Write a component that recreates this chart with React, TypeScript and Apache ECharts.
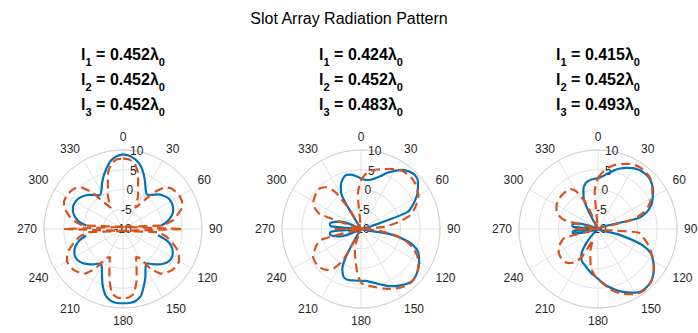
import React, { useEffect, useRef } from "react";
import * as echarts from "echarts";

// Pattern sample angles (degrees, clockwise from broadside at the top)
const THETA = [
  0, 5, 10, 15, 20, 25, 30, 35, 40, 45, 50, 55, 60, 65, 70, 75, 80, 85, 90,
  95, 100, 105, 110, 115, 120, 125, 130, 135, 140, 145, 150, 155, 160, 165, 170, 175, 180,
  185, 190, 195, 200, 205, 210, 215, 220, 225, 230, 235, 240, 245, 250, 255, 260, 265, 270,
  275, 280, 285, 290, 295, 300, 305, 310, 315, 320, 325, 330, 335, 340, 345, 350, 355, 360,
];

// Normalised gain in dB; null = no value (pattern zero)
// Case 1: equal slot lengths
const THEORY_1 = [
  8.9, 8.6, 7.9, 6.8, 5.1, 3.2, 1.5, 0.6, 1.3, 2.4, 3.2, 3.8, 4.0, 3.9, 3.5, 2.7, 1.5, -0.3, null,
  null, -1.0, 1.6, 3.1, 3.9, 4.3, 4.2, 3.6, 2.7, 1.6, 0.6, 1.4, 3.4, 5.4, 7.5, 8.5, 8.8, 8.8,
  8.8, 8.4, 7.3, 5.1, 2.6, 0.8, 0.7, 1.7, 2.6, 3.4, 3.9, 4.0, 3.6, 2.8, 1.5, -0.5, null, null,
  -0.7, 1.5, 2.7, 3.5, 3.9, 3.9, 3.6, 3.0, 2.2, 1.3, 0.4, 1.0, 2.6, 4.3, 6.0, 7.6, 8.5, 8.9,
];
const SIM_1 = [
  7.9, 7.7, 7.0, 4.8, 1.2, -1.0, -3.8, -2.0, 2.2, 5.0, 6.0, 6.4, 6.6, 6.5, 6.0, 4.4, 3.0, 0.3, -25,
  -1.0, 1.2, 2.8, 4.4, 5.6, 6.4, 6.5, 6.2, 5.6, 4.8, 2.5, -1.5, -2.2, 0.0, 3.4, 6.6, 7.4, 7.6,
  7.4, 6.6, 3.3, 0.0, -2.2, -1.5, 2.4, 4.7, 5.6, 6.2, 6.5, 6.4, 5.6, 4.3, 2.8, 1.2, -1.0, -25.2,
  0.3, 3.0, 4.4, 5.9, 6.5, 6.6, 6.4, 6.0, 5.0, 2.2, -2.0, -3.8, -1.0, 1.2, 4.8, 7.0, 7.7, 7.9,
];

// Case 2: graded slot lengths
const THEORY_2 = [
  2.8, 2.5, 2.6, 3.2, 4.2, 5.7, 7.0, 8.3, 9.0, 9.3, 8.8, 7.6, 6.2, 4.5, 2.5, -7.5, -10, -10, -10,
  -10, -2.5, 2.5, 5.0, 6.2, 7.0, 7.7, 8.2, 8.5, 8.1, 7.4, 6.7, 5.9, 5.0, 4.2, 3.6, 3.2, 3.1,
  3.1, 3.2, 3.3, 2.9, 1.2, -10, -10, -10, -10, -10, -10, -10, -8, -4.5, -3.0, -2.0, -2.4, -10,
  -2.4, -2.0, -3.0, -4.5, -8, -10, -10, -10, -10, -10, -10, -0.5, 2.1, 3.5, 4.2, 4.0, 3.4, 2.8,
];
const SIM_2 = [
  2.4, 4.0, 5.0, 5.6, 6.1, 6.8, 7.5, 8.0, 8.2, 8.2, 7.9, 7.4, 6.8, 5.6, 4.3, 2.6, -0.8, -4.5, -10,
  -6.0, -1.5, 1.8, 4.0, 5.6, 6.8, 7.6, 8.2, 8.5, 8.5, 8.0, 7.4, 6.7, 6.0, 5.3, 4.7, 4.2, 3.6,
  1.0, -2.0, -4.0, -6.5, -10, -1.0, 2.3, 3.5, 4.1, 4.3, 4.3, 4.0, 3.0, 2.0, 0.5, -10, -10, -3.0,
  -10, -10, -10, 1.0, 3.0, 3.9, 4.3, 4.6, 4.6, 3.8, 1.5, -5.0, -10, -10, -10, -10, -1.0, 2.4,
];

// Case 3: strongly graded slot lengths
const THEORY_3 = [
  2.8, 3.4, 4.3, 5.3, 6.3, 7.1, 7.8, 8.2, 8.4, 8.3, 7.8, 7.0, 6.0, 5.0, 3.4, 0.5, -10, -10, -10,
  -10, -10, -4.5, 2.0, 4.8, 6.1, 7.3, 8.2, 8.9, 9.2, 9.2, 8.6, 7.7, 6.8, 5.8, 4.8, 3.7, 2.6,
  1.8, 1.1, 0.4, -0.3, -0.7, -1.5, -2.9, -5.5, -8.0, -10, -10, -10, -10, -10, -7.0, -3.5, -3.6, -10,
  -3.6, -3.4, -4.5, -7.5, -10, -10, -10, -10, -10, -10, -10, -10, -1.5, 0.8, 2.0, 2.5, 2.7, 2.8,
];
const SIM_3 = [
  3.0, 4.5, 5.8, 6.8, 7.5, 8.2, 8.7, 8.9, 8.8, 8.5, 7.9, 6.8, 5.6, 4.2, 2.3, -1.5, -10, -10, -10,
  0.3, 1.5, 2.7, 3.9, 5.0, 6.2, 7.2, 8.2, 9.0, 9.4, 9.4, 9.0, 8.2, 7.4, 6.4, 5.2, 3.8, 2.8,
  1.5, 0.0, -2.5, -4.5, -7.0, -1.8, 0.2, 1.3, 1.8, 1.9, 1.8, 1.5, 1.0, 0.0, -1.2, -10, -10, -3.7,
  -10, -10, -1.3, 0.8, 1.6, 2.1, 2.4, 2.5, 2.5, 2.5, 2.3, 1.0, -3.0, -10, -10, -10, -0.5, 3.0,
];

// Slot lengths l1, l2, l3 in free-space wavelengths for each case
const SLOT_LENGTHS = [
  [0.452, 0.452, 0.452],
  [0.424, 0.452, 0.483],
  [0.415, 0.452, 0.493],
];

const THEORY = [THEORY_1, THEORY_2, THEORY_3];
const SIM = [SIM_1, SIM_2, SIM_3];
// Case 1's simulated trace folds through the origin, so it is drawn with straight segments
const SIM_SMOOTH = [false, 0.25, 0.25];

const R_MIN = -10;
const R_MAX = 10;
const R_STEP = 5;
const THETA_STEP = 30;

// Layout
const WIDTH = 698;
const HEIGHT = 333;
const CENTER_X = [123, 361, 598];
const CENTER_Y = 229;
const RADIUS = 79;

const FONT = "'Liberation Sans', Arial, Helvetica, sans-serif";
const AXIS_TEXT = "#262626";
const GRID = "#e0e0e0";
const BLUE = "#0072BD";
const ORANGE = "#D95319";

function lengthLabel(lengths: number[]): string {
  return lengths
    .map((v, i) => `{m|l}{s|${i + 1}}{m| = ${v.toFixed(3)}λ}{s|0}`)
    .join("\n");
}

function buildOption(): echarts.EChartsCoreOption {
  const polar: any[] = [];
  const angleAxis: any[] = [];
  const radiusAxis: any[] = [];
  const series: any[] = [];

  // grid + theta labels
  CENTER_X.forEach((cx, i) => {
    polar.push({ center: [cx, CENTER_Y], radius: RADIUS });
    angleAxis.push({
      polarIndex: i,
      type: "value",
      min: 0,
      max: 360,
      interval: THETA_STEP,
      startAngle: 90,
      clockwise: true,
      axisLine: { show: true, lineStyle: { color: "#d2d2d2", width: 1 } },
      axisTick: { show: false },
      axisLabel: {
        show: true,
        margin: 7,
        color: AXIS_TEXT,
        fontSize: 12,
        fontFamily: FONT,
        formatter: (v: number) => (v === 360 ? "" : String(v)),
      },
      splitLine: { show: true, lineStyle: { color: GRID, width: 1 } },
    });
    radiusAxis.push({
      polarIndex: i,
      type: "value",
      min: R_MIN,
      max: R_MAX,
      interval: R_STEP,
      axisLine: { show: false },
      axisTick: { show: false },
      axisLabel: { show: false },
      splitLine: { show: true, lineStyle: { color: GRID, width: 1 } },
    });
  });

  // r tick labels, set along a spoke 10 degrees off the top
  CENTER_X.forEach((cx, i) => {
    polar.push({ center: [cx, CENTER_Y], radius: RADIUS });
    angleAxis.push({
      polarIndex: 3 + i,
      type: "value",
      min: 0,
      max: 360,
      startAngle: 80,
      show: false,
    });
    radiusAxis.push({
      polarIndex: 3 + i,
      type: "value",
      min: R_MIN,
      max: R_MAX,
      interval: R_STEP,
      z: 1,
      axisLine: { show: false },
      axisTick: { show: false },
      splitLine: { show: false },
      axisLabel: {
        show: true,
        margin: 0,
        align: "center",
        verticalAlign: "middle",
        color: AXIS_TEXT,
        fontSize: 12,
        fontFamily: FONT,
      },
    });
  });

  CENTER_X.forEach((_, i) => {
    series.push({
      type: "line",
      coordinateSystem: "polar",
      polarIndex: i,
      data: THETA.map((t, k) => [THEORY[i][k], t]),
      showSymbol: false,
      symbol: "none",
      smooth: 0.25,
      connectNulls: false,
      clip: false,
      silent: true,
      z: 3,
      lineStyle: { color: BLUE, width: 2.2, type: "solid" },
    });
    series.push({
      type: "line",
      coordinateSystem: "polar",
      polarIndex: i,
      data: THETA.map((t, k) => [SIM[i][k], t]),
      showSymbol: false,
      symbol: "none",
      smooth: SIM_SMOOTH[i],
      connectNulls: false,
      clip: false,
      silent: true,
      z: 4,
      lineStyle: { color: ORANGE, width: 2.2, type: [9, 5] },
    });
  });

  const titles: any[] = [
    {
      text: "Slot Array Radiation Pattern",
      left: "center",
      top: 10,
      padding: 0,
      textStyle: { fontSize: 16, fontWeight: "normal", color: "#000", fontFamily: FONT },
    },
  ];
  CENTER_X.forEach((cx, i) => {
    titles.push({
      text: lengthLabel(SLOT_LENGTHS[i]),
      left: cx,
      top: 42,
      textAlign: "center",
      padding: 0,
      textStyle: {
        fontFamily: FONT,
        rich: {
          m: { fontSize: 16, fontWeight: "bold", color: "#000", lineHeight: 25, fontFamily: FONT },
          s: {
            fontSize: 11,
            fontWeight: "bold",
            color: "#000",
            lineHeight: 14,
            verticalAlign: "bottom",
            fontFamily: FONT,
          },
        },
      },
    });
  });

  return {
    animation: false,
    backgroundColor: "#ffffff",
    title: titles,
    polar,
    angleAxis,
    radiusAxis,
    series,
  };
}

export default function App() {
  const ref = useRef<HTMLDivElement>(null);

  useEffect(() => {
    if (!ref.current) return;
    const chart = echarts.init(ref.current, undefined, { renderer: "svg" });
    chart.setOption(buildOption());
    return () => chart.dispose();
  }, []);

  return (
    <div
      ref={ref}
      style={{
        position: "fixed",
        left: 0,
        top: 0,
        width: WIDTH,
        height: HEIGHT,
        background: "#fff",
      }}
    />
  );
}
